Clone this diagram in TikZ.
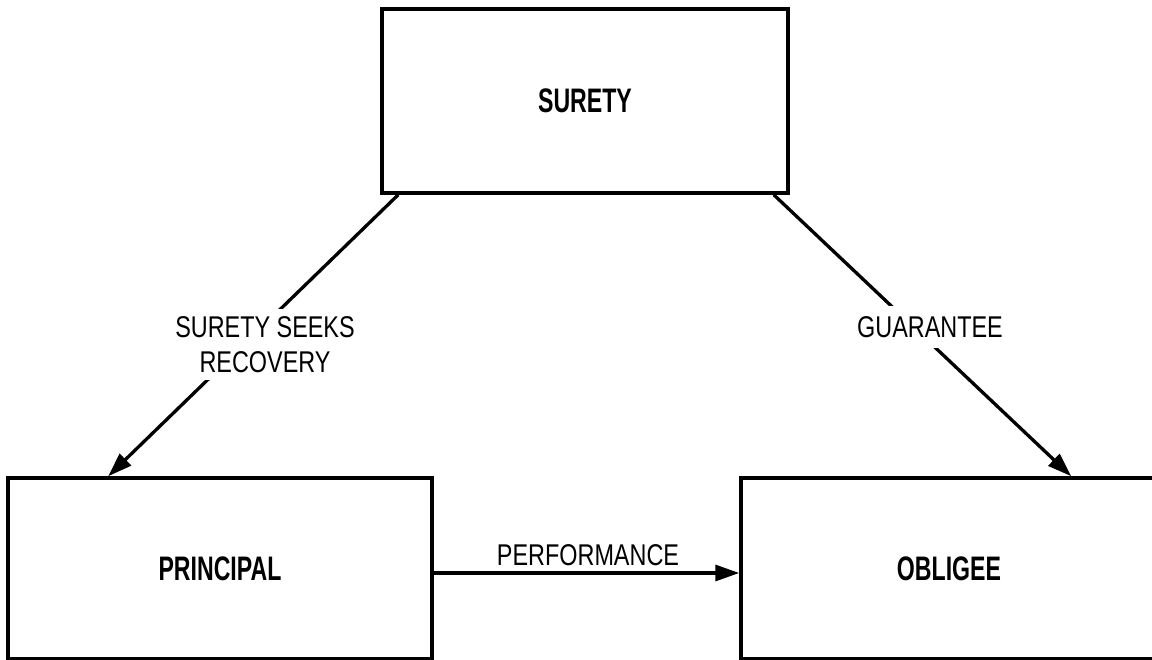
\documentclass[tikz,border=0pt]{standalone}
\usepackage{fontspec}
\usetikzlibrary{arrows.meta,calc}
\newfontfamily\edgefont[FakeStretch=0.78]{Liberation Sans}
\newfontfamily\partyfont[FakeStretch=0.68]{Liberation Sans}
\tikzset{
  party/.style={draw,line width=3.5pt,inner sep=0pt,
    font=\partyfont\bfseries\fontsize{34}{40}\selectfont},
  link/.style={line width=3.3pt,-{Triangle[length=24pt,width=16pt]}},
  edgetext/.style={font=\edgefont\fontsize{30}{35}\selectfont},
  edgelabel/.style={edgetext,fill=white,inner sep=7pt,align=center}
}
\begin{document}
\begin{tikzpicture}[x=1pt,y=-1pt]
  \useasboundingbox (0,0) rectangle (1152,660);

  % the three parties
  \node[party,minimum width=406pt,minimum height=184pt] (surety) at (585,101) {SURETY};
  \node[party,minimum width=424pt,minimum height=181pt] (principal) at (220,568.5) {PRINCIPAL};
  \node[party,minimum width=416pt,minimum height=181pt] (obligee) at (949,568.5) {OBLIGEE};

  % relations between them
  \draw[link] ($(surety.south west)+(18,0)$) -- ($(principal.north west)+(102,0)$);
  \draw[link] ($(surety.south east)+(-16,0)$) -- ($(obligee.north west)+(332,0)$);
  \draw[link] (principal.east |- 0,573) -- (obligee.west |- 0,573);

  % labels on the relations
  \node[edgelabel] (recovery) at (265,344.5) {SURETY SEEKS\\RECOVERY};
  \node[edgelabel,inner ysep=10pt] (guarantee) at (930,327) {GUARANTEE};
  \node[edgetext,inner sep=0pt,anchor=base] (performance) at (588,565) {PERFORMANCE};
\end{tikzpicture}
\end{document}
